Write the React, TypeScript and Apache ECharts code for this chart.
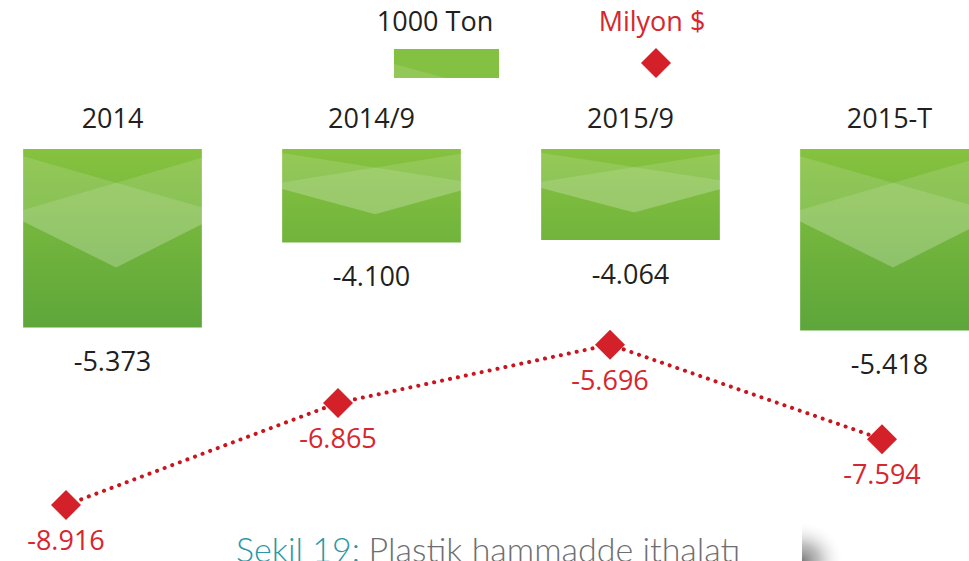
import React, { useEffect, useRef } from "react";
import * as echarts from "echarts";

const categories = ["2014", "2014/9", "2015/9", "2015-T"];
// 1000 Ton (thousand tons)
const tonValues = [-5373, -4100, -4064, -5418];
// Milyon $
const usdValues = [-8916, -6865, -5696, -7594];

const legendNames = ["1000 Ton", "Milyon $"];
const captionLead = "Şekil 19:";
const captionText = "Plastik hammadde ithalatı";

const TON_MAX = -2700;
const TON_MIN = -7700;
const USD_MAX = -5000;
const USD_MIN = -10000;

const FONT = "'Open Sans', 'Noto Sans', sans-serif";
const DARK = "#231f20";
const RED = "#d42029";

function fmt(n: number): string {
  const s = Math.abs(n).toString().replace(/\B(?=(\d{3})+(?!\d))/g, ".");
  return (n < 0 ? "-" : "") + s;
}

function renderBar(params: any, api: any) {
  const i = api.value(0);
  const v = api.value(1);
  const topPt = api.coord([i, TON_MAX]);
  const botPt = api.coord([i, v]);
  const bw = api.size([1, 0])[0] * 0.69;
  const x0 = topPt[0] - bw / 2;
  const y0 = topPt[1];
  const h = botPt[1] - y0;
  const r = Math.min(h, 170);
  const cx = x0 + bw * 0.52;
  const s1 = [
    [x0, y0 + 0.042 * r],
    [x0 + bw, y0 + 0.343 * r],
    [x0 + bw, y0 + 0.443 * r],
    [cx, y0 + 0.697 * r],
    [x0, y0 + 0.427 * r],
  ];
  const s2 = [
    [x0 + bw, y0 + 0.052 * r],
    [x0, y0 + 0.359 * r],
    [x0, y0 + 0.427 * r],
    [cx, y0 + 0.697 * r],
    [x0 + bw, y0 + 0.443 * r],
  ];
  return {
    type: "group",
    children: [
      {
        type: "rect",
        shape: { x: x0, y: y0, width: bw, height: h },
        style: {
          fill: {
            type: "linear",
            x: 0,
            y: y0,
            x2: 0,
            y2: y0 + 200,
            global: true,
            colorStops: [
              { offset: 0, color: "#86c23f" },
              { offset: 1, color: "#59a33a" },
            ],
          },
        },
      },
      { type: "polygon", shape: { points: s1 }, style: { fill: "rgba(255,255,255,0.13)" } },
      { type: "polygon", shape: { points: s2 }, style: { fill: "rgba(255,255,255,0.13)" } },
      {
        type: "text",
        x: x0 + bw / 2,
        y: botPt[1] + 33,
        style: {
          text: fmt(v),
          fill: DARK,
          fontSize: 27,
          fontFamily: FONT,
          align: "center",
          verticalAlign: "middle",
        },
      },
    ],
  };
}

export default function App() {
  const ref = useRef<HTMLDivElement>(null);

  useEffect(() => {
    if (!ref.current) return;
    const chart = echarts.init(ref.current, null, { renderer: "svg" });
    chart.setOption({
      animation: false,
      backgroundColor: "#ffffff",
      grid: [
        { left: -17, width: 1036, top: 149, height: 334, outerBoundsMode: "none", containLabel: false },
        { left: 66, width: 816, top: 310, height: 249, outerBoundsMode: "none", containLabel: false },
      ],
      xAxis: [
        {
          type: "category",
          gridIndex: 0,
          position: "top",
          data: categories,
          axisLine: { show: false },
          axisTick: { show: false },
          splitLine: { show: false },
          axisLabel: { color: DARK, fontSize: 27, fontFamily: FONT, margin: 18 },
        },
        {
          type: "category",
          gridIndex: 1,
          data: categories,
          boundaryGap: false,
          show: false,
        },
      ],
      yAxis: [
        { type: "value", gridIndex: 0, min: TON_MIN, max: TON_MAX, show: false },
        { type: "value", gridIndex: 1, min: USD_MIN, max: USD_MAX, show: false },
      ],
      series: [
        {
          name: legendNames[0],
          type: "custom",
          xAxisIndex: 0,
          yAxisIndex: 0,
          renderItem: renderBar,
          encode: { x: 0, y: 1 },
          data: tonValues.map((v, i) => [i, v]),
          clip: false,
        },
        {
          name: legendNames[1],
          type: "line",
          xAxisIndex: 1,
          yAxisIndex: 1,
          data: usdValues,
          symbol: "diamond",
          symbolSize: 30,
          itemStyle: { color: RED },
          lineStyle: { color: "#c8161e", width: 4, type: [0.1, 8], cap: "round" },
          label: {
            show: true,
            position: "bottom",
            distance: 6,
            color: "#d7262e",
            fontSize: 27,
            fontFamily: FONT,
            formatter: (p: any) => fmt(p.value),
          },
          clip: false,
          z: 5,
        },
      ],
      graphic: [
        {
          type: "text",
          x: 435,
          y: 20,
          style: {
            text: legendNames[0],
            fill: DARK,
            fontSize: 27,
            fontFamily: FONT,
            align: "center",
            verticalAlign: "middle",
          },
        },
        {
          type: "rect",
          shape: { x: 394, y: 49, width: 105, height: 29 },
          style: { fill: "#84c041" },
        },
        {
          type: "polygon",
          shape: { points: [[394, 64], [446, 78], [394, 78]] },
          style: { fill: "rgba(255,255,255,0.12)" },
        },
        {
          type: "text",
          x: 652,
          y: 20,
          style: {
            text: legendNames[1],
            fill: "#d7262e",
            fontSize: 27,
            fontFamily: FONT,
            align: "center",
            verticalAlign: "middle",
          },
        },
        {
          type: "polygon",
          shape: { points: [[656, 48], [671, 63], [656, 78], [641, 63]] },
          style: { fill: RED },
        },
        {
          type: "rect",
          shape: { x: 802, y: 521, width: 42, height: 40 },
          style: {
            fill: {
              type: "radial",
              x: 0,
              y: 1,
              r: 1,
              colorStops: [
                { offset: 0, color: "rgba(110,110,110,0.9)" },
                { offset: 0.4, color: "rgba(150,150,150,0.6)" },
                { offset: 1, color: "rgba(255,255,255,0)" },
              ],
            },
          },
        },
        {
          type: "text",
          x: 236,
          y: 531,
          style: {
            text: "{a|" + captionLead + "} {b|" + captionText + "}",
            verticalAlign: "top",
            rich: {
              a: { fill: "#2b97a8", fontSize: 34, fontFamily: "Lato, sans-serif", fontWeight: 300 },
              b: { fill: "#6d6e70", fontSize: 34, fontFamily: "Lato, sans-serif", fontWeight: 300 },
            },
            fontSize: 34,
            fontFamily: "Lato, sans-serif",
          },
        },
      ],
    });
    return () => chart.dispose();
  }, []);

  return (
    <div
      ref={ref}
      style={{ position: "absolute", left: 0, top: 0, width: 969, height: 561 }}
    />
  );
}
